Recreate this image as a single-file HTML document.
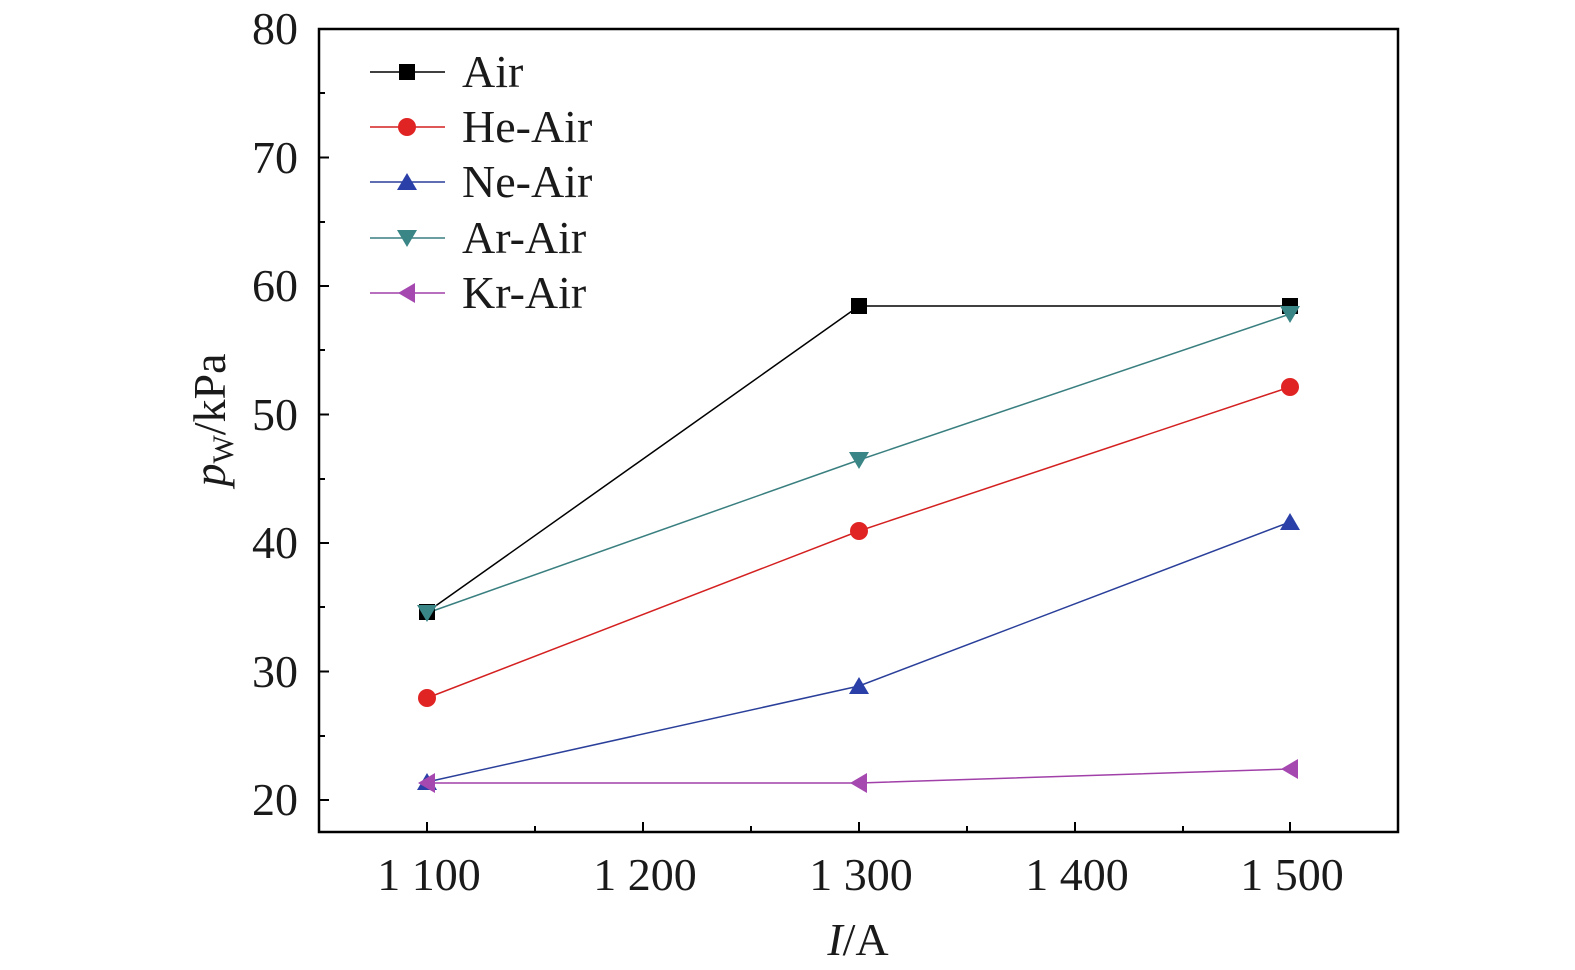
<!DOCTYPE html>
<html><head><meta charset="utf-8"><style>body{margin:0;background:#fff}svg{display:block}</style></head><body>
<svg width="1575" height="970" viewBox="0 0 1575 970" xmlns="http://www.w3.org/2000/svg" font-family="'Liberation Serif', serif">
<rect x="319" y="29" width="1079" height="803" fill="none" stroke="#000" stroke-width="2.5"/>
<g stroke="#000" stroke-width="2">
<line x1="427" y1="832" x2="427" y2="822"/><line x1="643" y1="832" x2="643" y2="822"/><line x1="859" y1="832" x2="859" y2="822"/><line x1="1075" y1="832" x2="1075" y2="822"/><line x1="1290" y1="832" x2="1290" y2="822"/>
<line x1="535" y1="832" x2="535" y2="826"/><line x1="751" y1="832" x2="751" y2="826"/><line x1="967" y1="832" x2="967" y2="826"/><line x1="1183" y1="832" x2="1183" y2="826"/>
<line x1="319" y1="29" x2="329" y2="29"/><line x1="319" y1="157.5" x2="329" y2="157.5"/><line x1="319" y1="286" x2="329" y2="286"/><line x1="319" y1="414.5" x2="329" y2="414.5"/><line x1="319" y1="543" x2="329" y2="543"/><line x1="319" y1="671.5" x2="329" y2="671.5"/><line x1="319" y1="800" x2="329" y2="800"/>
<line x1="319" y1="93" x2="325" y2="93"/><line x1="319" y1="222" x2="325" y2="222"/><line x1="319" y1="350" x2="325" y2="350"/><line x1="319" y1="479" x2="325" y2="479"/><line x1="319" y1="607" x2="325" y2="607"/><line x1="319" y1="736" x2="325" y2="736"/>
</g>
<g font-size="46" text-anchor="end" fill="#1a1a1a">
<text x="298" y="44">80</text><text x="298" y="173">70</text><text x="298" y="301">60</text><text x="298" y="430">50</text><text x="298" y="558">40</text><text x="298" y="687">30</text><text x="298" y="815">20</text>
</g>
<g font-size="46" text-anchor="middle" fill="#1a1a1a">
<text x="429" y="890">1 100</text><text x="645" y="890">1 200</text><text x="861" y="890">1 300</text><text x="1077" y="890">1 400</text><text x="1292" y="890">1 500</text>
<text x="858" y="955"><tspan font-style="italic">I</tspan>/A</text>
</g>
<text transform="translate(225,420) rotate(-90)" font-size="46" text-anchor="middle" fill="#1a1a1a"><tspan font-style="italic">p</tspan><tspan font-size="30" dy="8">W</tspan><tspan dy="-8">/kPa</tspan></text>
<g fill="none" stroke-width="1.5">
<polyline stroke="#000" points="427,612 859,306 1290,306"/>
<polyline stroke="#d42020" points="427,698 859,531 1290,387"/>
<polyline stroke="#2a3f9a" points="427,782 859,686 1290,522"/>
<polyline stroke="#3a7f80" points="427,613 859,460 1290,314"/>
<polyline stroke="#a040a8" points="427,783 859,783 1290,769"/>
</g>
<g fill="#000"><rect x="419" y="604" width="16" height="16"/><rect x="851" y="298" width="16" height="16"/><rect x="1282" y="298" width="16" height="16"/></g>
<g fill="#e02424"><circle cx="427" cy="698" r="9"/><circle cx="859" cy="531" r="9"/><circle cx="1290" cy="387" r="9"/></g>
<g fill="#2a40a8"><polygon points="427,773 417,790 437,790"/><polygon points="859,677 849,694 869,694"/><polygon points="1290,513 1280,530 1300,530"/></g>
<g fill="#3a8585"><polygon points="427,622 417,605 437,605"/><polygon points="859,469 849,452 869,452"/><polygon points="1290,323 1280,306 1300,306"/></g>
<g fill="#a548b0"><polygon points="418,783 435,773 435,793"/><polygon points="850,783 867,773 867,793"/><polygon points="1281,769 1298,759 1298,779"/></g>
<g stroke-width="1.5">
<line x1="370" y1="72" x2="445" y2="72" stroke="#000"/><rect x="399" y="64" width="16" height="16" fill="#000"/>
<line x1="370" y1="127" x2="445" y2="127" stroke="#d42020"/><circle cx="407" cy="127" r="9" fill="#e02424"/>
<line x1="370" y1="182" x2="445" y2="182" stroke="#2a3f9a"/><polygon points="407,173 397,190 417,190" fill="#2a40a8"/>
<line x1="370" y1="238" x2="445" y2="238" stroke="#3a7f80"/><polygon points="407,247 397,230 417,230" fill="#3a8585"/>
<line x1="370" y1="293" x2="445" y2="293" stroke="#a040a8"/><polygon points="398,293 415,283 415,303" fill="#a548b0"/>
</g>
<g font-size="46" fill="#1a1a1a">
<text x="462" y="87">Air</text><text x="462" y="142">He-Air</text><text x="462" y="197">Ne-Air</text><text x="462" y="253">Ar-Air</text><text x="462" y="308">Kr-Air</text>
</g>
</svg>
</body></html>
